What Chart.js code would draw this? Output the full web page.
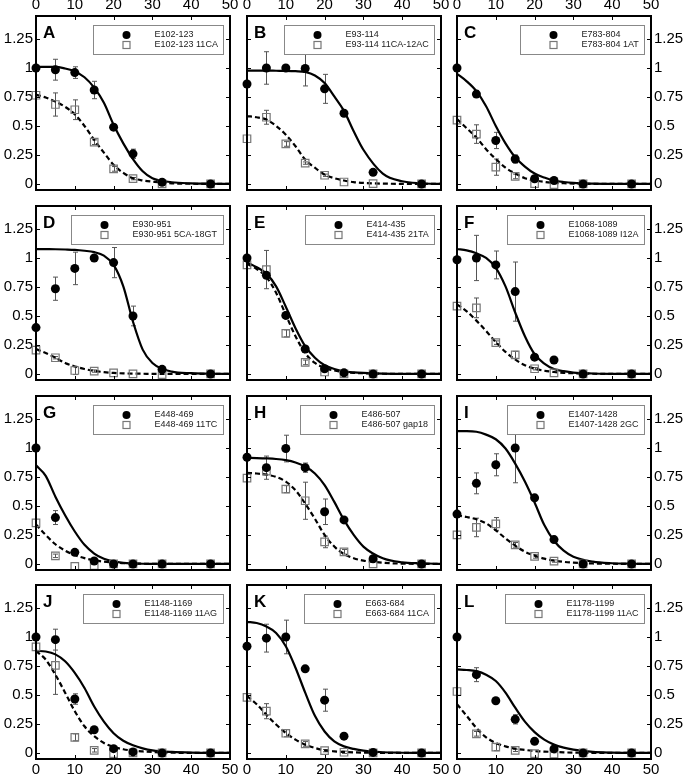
<!DOCTYPE html>
<html><head><meta charset="utf-8">
<script src="https://cdn.jsdelivr.net/npm/chart.js@4"></script>
<style>
html,body{margin:0;padding:0;background:#fff;}
#wrap{position:relative;width:687px;height:781px;overflow:hidden;background:#fff;}
canvas{position:absolute;}
</style></head><body><div id="wrap"></div>
<script>
// ---------- shared axes / categories ----------
const xPoints = [0, 5, 10, 15, 20, 25, 32.5, 45];
const curveX = [0, 2.5, 5, 7.5, 10, 12.5, 15, 17.5, 20, 22.5, 25, 27.5, 30, 35, 40, 45, 50];
const xTicks = [0, 10, 20, 30, 40, 50];
const yTicks = [0, 0.25, 0.5, 0.75, 1, 1.25];
const yTickLabels = ['0', '0.25', '0.5', '0.75', '1', '1.25'];
const panelLetters = ['A','B','C','D','E','F','G','H','I','J','K','L'];
const wildNames = ['E102-123','E93-114','E783-804','E930-951','E414-435','E1068-1089','E448-469','E486-507','E1407-1428','E1148-1169','E663-684','E1178-1199'];
const mutNames = ['E102-123 11CA','E93-114 11CA-12AC','E783-804 1AT','E930-951 5CA-18GT','E414-435 21TA','E1068-1089 I12A','E448-469 11TC','E486-507 gap18','E1407-1428 2GC','E1148-1169 11AG','E663-684 11CA','E1178-1199 11AC'];

// ---------- panel A ----------
const A_wild = [1.0, 0.985, 0.96, 0.81, 0.49, 0.26, 0.015, 0.0];
const A_wildErr = [0, 0.09, 0.05, 0.075, 0.02, 0.04, 0, 0];
const A_mut = [0.765, 0.685, 0.64, 0.36, 0.13, 0.046, 0.0, 0.0];
const A_mutErr = [0, 0.1, 0.085, 0.02, 0.02, 0.01, 0, 0];
const A_fitWild = [1.01, 1.01, 1.01, 0.995, 0.97, 0.92, 0.83, 0.70, 0.51, 0.35, 0.215, 0.11, 0.05, 0.015, 0.005, 0.002, 0];
const A_fitMut = [0.77, 0.745, 0.71, 0.665, 0.60, 0.50, 0.38, 0.27, 0.165, 0.095, 0.05, 0.03, 0.02, 0.005, 0.002, 0.001, 0];
// ---------- panel B ----------
const B_wild = [0.862, 1.0, 1.0, 0.995, 0.82, 0.61, 0.10, 0.0];
const B_wildErr = [0, 0.14, 0, 0.15, 0.125, 0, 0, 0];
const B_mut = [0.39, 0.575, 0.345, 0.18, 0.075, 0.017, 0.003, 0];
const B_mutErr = [0, 0.06, 0.02, 0.01, 0.01, 0, 0, 0];
const B_fitWild = [0.977, 0.977, 0.977, 0.976, 0.975, 0.972, 0.965, 0.935, 0.87, 0.755, 0.63, 0.455, 0.295, 0.09, 0.023, 0.006, 0];
const B_fitMut = [0.585, 0.575, 0.555, 0.50, 0.425, 0.325, 0.21, 0.14, 0.08, 0.05, 0.03, 0.016, 0.009, 0.003, 0.001, 0, 0];
// ---------- panel C ----------
const C_wild = [1.0, 0.775, 0.375, 0.215, 0.045, 0.03, 0, 0];
const C_wildErr = [0, 0.03, 0.07, 0.035, 0, 0, 0, 0];
const C_mut = [0.55, 0.43, 0.145, 0.065, 0.003, -0.005, 0, 0];
const C_mutErr = [0, 0.08, 0.07, 0.02, 0, 0, 0, 0];
const C_fitWild = [0.95, 0.885, 0.80, 0.67, 0.50, 0.35, 0.23, 0.15, 0.09, 0.055, 0.03, 0.017, 0.009, 0.003, 0.001, 0, 0];
const C_fitMut = [0.56, 0.48, 0.40, 0.30, 0.215, 0.14, 0.09, 0.05, 0.03, 0.018, 0.01, 0.006, 0.003, 0.001, 0, 0, 0];
// ---------- panel D ----------
const D_wild = [0.40, 0.735, 0.91, 1.0, 0.96, 0.50, 0.04, 0];
const D_wildErr = [0, 0.1, 0.14, 0, 0.13, 0.085, 0, 0];
const D_mut = [0.205, 0.14, 0.03, 0.025, 0.01, 0, -0.005, 0];
const D_mutErr = [0, 0.01, 0.035, 0.01, 0, 0, 0, 0];
const D_fitWild = [1.077, 1.076, 1.075, 1.073, 1.07, 1.062, 1.05, 1.02, 0.94, 0.755, 0.45, 0.21, 0.095, 0.02, 0.007, 0.002, 0];
const D_fitMut = [0.215, 0.18, 0.14, 0.095, 0.065, 0.043, 0.026, 0.016, 0.009, 0.005, 0.003, 0.002, 0.001, 0, 0, 0, 0];
// ---------- panel E ----------
const E_wild = [1.0, 0.85, 0.505, 0.215, 0.045, 0.01, 0, 0];
const E_wildErr = [0, 0.02, 0.03, 0, 0, 0, 0, 0];
const E_mut = [0.94, 0.90, 0.35, 0.10, 0.017, 0, 0, 0];
const E_mutErr = [0, 0.165, 0.03, 0.02, 0, 0, 0, 0];
const E_fitWild = [0.963, 0.92, 0.865, 0.755, 0.58, 0.395, 0.24, 0.14, 0.075, 0.043, 0.023, 0.014, 0.009, 0.003, 0.001, 0, 0];
const E_fitMut = [0.95, 0.905, 0.835, 0.70, 0.51, 0.325, 0.18, 0.095, 0.052, 0.03, 0.017, 0.01, 0.006, 0.002, 0, 0, 0];
// ---------- panel F ----------
const F_wild = [0.985, 1.0, 0.94, 0.71, 0.145, 0.12, 0, 0];
const F_wildErr = [0, 0.195, 0.12, 0.255, 0, 0, 0, 0];
const F_mut = [0.585, 0.57, 0.27, 0.165, 0.045, 0.01, 0, 0];
const F_mutErr = [0, 0.085, 0.015, 0.03, 0.01, 0, 0, 0];
const F_fitWild = [1.077, 1.065, 1.04, 1.0, 0.915, 0.755, 0.53, 0.325, 0.17, 0.09, 0.043, 0.024, 0.012, 0.004, 0.001, 0, 0];
const F_fitMut = [0.60, 0.54, 0.46, 0.37, 0.275, 0.19, 0.125, 0.075, 0.046, 0.028, 0.017, 0.01, 0.006, 0.002, 0, 0, 0];
// ---------- panel G ----------
const G_wild = [1.0, 0.40, 0.10, 0.026, 0, 0, 0, 0];
const G_wildErr = [0, 0.06, 0, 0, 0, 0, 0, 0];
const G_mut = [0.355, 0.07, -0.02, -0.015, 0, 0, 0, 0];
const G_mutErr = [0, 0.015, 0, 0, 0, 0, 0, 0];
const G_fitWild = [0.85, 0.76, 0.58, 0.42, 0.28, 0.165, 0.09, 0.045, 0.022, 0.01, 0.005, 0.002, 0.001, 0, 0, 0, 0];
const G_fitMut = [0.34, 0.25, 0.17, 0.115, 0.077, 0.05, 0.032, 0.02, 0.012, 0.007, 0.003, 0.002, 0.001, 0, 0, 0, 0];
// ---------- panel H ----------
const H_wild = [0.92, 0.83, 0.995, 0.83, 0.45, 0.38, 0.045, 0];
const H_wildErr = [0, 0.1, 0.115, 0.04, 0.11, 0, 0, 0];
const H_mut = [0.74, 0.80, 0.645, 0.545, 0.19, 0.105, 0.0, 0];
const H_mutErr = [0, 0, 0.03, 0.16, 0.05, 0.02, 0, 0];
const H_fitWild = [0.915, 0.913, 0.91, 0.905, 0.895, 0.875, 0.84, 0.78, 0.68, 0.535, 0.38, 0.25, 0.15, 0.049, 0.014, 0.006, 0];
const H_fitMut = [0.785, 0.78, 0.77, 0.75, 0.71, 0.635, 0.52, 0.39, 0.25, 0.15, 0.086, 0.049, 0.029, 0.011, 0.003, 0.001, 0];
// ---------- panel I ----------
const I_wild = [0.43, 0.695, 0.855, 1.0, 0.57, 0.21, 0, 0];
const I_wildErr = [0, 0.09, 0.095, 0.3, 0, 0, 0, 0];
const I_mut = [0.25, 0.315, 0.345, 0.165, 0.065, 0.025, 0, 0];
const I_mutErr = [0, 0.08, 0.055, 0.02, 0.015, 0.01, 0, 0];
const I_fitWild = [1.145, 1.145, 1.14, 1.115, 1.075, 0.995, 0.865, 0.71, 0.53, 0.335, 0.20, 0.115, 0.063, 0.02, 0.006, 0.002, 0];
const I_fitMut = [0.42, 0.405, 0.385, 0.35, 0.29, 0.22, 0.158, 0.106, 0.072, 0.046, 0.029, 0.018, 0.011, 0.004, 0.002, 0, 0];
// ---------- panel J ----------
const J_wild = [1.0, 0.977, 0.465, 0.20, 0.037, 0.009, 0, 0];
const J_wildErr = [0, 0.09, 0.045, 0, 0, 0, 0, 0];
const J_mut = [0.915, 0.755, 0.135, 0.023, -0.005, 0, 0, 0];
const J_mutErr = [0, 0.25, 0.03, 0.015, 0, 0, 0, 0];
const J_fitWild = [0.88, 0.875, 0.85, 0.79, 0.69, 0.56, 0.40, 0.27, 0.17, 0.105, 0.066, 0.04, 0.023, 0.009, 0.003, 0.001, 0];
const J_fitMut = [0.88, 0.805, 0.675, 0.52, 0.36, 0.23, 0.145, 0.086, 0.052, 0.032, 0.02, 0.013, 0.008, 0.003, 0, 0, 0];
// ---------- panel K ----------
const K_wild = [0.92, 0.99, 1.0, 0.725, 0.455, 0.145, 0.005, 0];
const K_wildErr = [0, 0.12, 0.145, 0, 0.095, 0, 0, 0];
const K_mut = [0.48, 0.36, 0.17, 0.078, 0.02, 0.006, 0, 0];
const K_mutErr = [0, 0.065, 0.03, 0.02, 0.01, 0.01, 0, 0];
const K_fitWild = [1.13, 1.12, 1.09, 1.035, 0.92, 0.735, 0.52, 0.32, 0.185, 0.10, 0.057, 0.035, 0.02, 0.006, 0.002, 0, 0];
const K_fitMut = [0.49, 0.42, 0.33, 0.245, 0.172, 0.115, 0.072, 0.043, 0.023, 0.014, 0.009, 0.005, 0.003, 0.001, 0, 0, 0];
// ---------- panel L ----------
const L_wild = [1.0, 0.675, 0.45, 0.29, 0.10, 0.035, 0, 0];
const L_wildErr = [0, 0.06, 0, 0.04, 0, 0, 0, 0];
const L_mut = [0.53, 0.165, 0.05, 0.023, -0.005, -0.01, 0, 0];
const L_mutErr = [0, 0.02, 0.03, 0.01, 0, 0, 0, 0];
const L_fitWild = [0.72, 0.715, 0.705, 0.675, 0.62, 0.52, 0.39, 0.27, 0.18, 0.115, 0.072, 0.046, 0.029, 0.009, 0.003, 0.001, 0];
const L_fitMut = [0.42, 0.32, 0.215, 0.135, 0.086, 0.057, 0.037, 0.026, 0.017, 0.012, 0.009, 0.005, 0.003, 0.001, 0, 0, 0];

const panels = [
  [A_wild, A_wildErr, A_mut, A_mutErr, A_fitWild, A_fitMut],
  [B_wild, B_wildErr, B_mut, B_mutErr, B_fitWild, B_fitMut],
  [C_wild, C_wildErr, C_mut, C_mutErr, C_fitWild, C_fitMut],
  [D_wild, D_wildErr, D_mut, D_mutErr, D_fitWild, D_fitMut],
  [E_wild, E_wildErr, E_mut, E_mutErr, E_fitWild, E_fitMut],
  [F_wild, F_wildErr, F_mut, F_mutErr, F_fitWild, F_fitMut],
  [G_wild, G_wildErr, G_mut, G_mutErr, G_fitWild, G_fitMut],
  [H_wild, H_wildErr, H_mut, H_mutErr, H_fitWild, H_fitMut],
  [I_wild, I_wildErr, I_mut, I_mutErr, I_fitWild, I_fitMut],
  [J_wild, J_wildErr, J_mut, J_mutErr, J_fitWild, J_fitMut],
  [K_wild, K_wildErr, K_mut, K_mutErr, K_fitWild, K_fitMut],
  [L_wild, L_wildErr, L_mut, L_mutErr, L_fitWild, L_fitMut]
];

// ---------- layout ----------
const colLeft = [36, 247, 457];
const rowTop = [16, 206, 396, 585];
const FW = 194, FH = 174;
const PADX = 40, PADY = 22;
const FONT = '"Liberation Sans", Arial, Helvetica, sans-serif';

function toXY(xs, ys) { return xs.map((x, i) => ({ x: x, y: ys[i] })); }

function makePlugin(idx) {
  const [wild, wildErr, mut, mutErr] = panels[idx];
  function errBars(ctx, xs, ys, es, sx, sy) {
    ctx.save();
    ctx.strokeStyle = '#555';
    ctx.lineWidth = 1;
    for (let i = 0; i < xs.length; i++) {
      if (!es[i]) continue;
      const px = Math.round(sx.getPixelForValue(xs[i])) + 0.5;
      const p1 = sy.getPixelForValue(ys[i] + es[i]);
      const p2 = sy.getPixelForValue(ys[i] - es[i]);
      ctx.beginPath();
      ctx.moveTo(px, p1); ctx.lineTo(px, p2);
      ctx.moveTo(px - 2.5, p1); ctx.lineTo(px + 2.5, p1);
      ctx.moveTo(px - 2.5, p2); ctx.lineTo(px + 2.5, p2);
      ctx.stroke();
    }
    ctx.restore();
  }
  return {
    id: 'panelDeco' + idx,
    beforeDatasetsDraw(chart) {
      const sx = chart.scales.x, sy = chart.scales.y, ctx = chart.ctx;
      errBars(ctx, xPoints, mut, mutErr, sx, sy);
      errBars(ctx, xPoints, wild, wildErr, sx, sy);
    },
    afterDraw(chart) {
      const ctx = chart.ctx, ca = chart.chartArea;
      const sx = chart.scales.x, sy = chart.scales.y;
      ctx.save();
      // frame
      ctx.strokeStyle = '#000';
      ctx.lineWidth = 2;
      ctx.strokeRect(ca.left, ca.top, ca.right - ca.left, ca.bottom - ca.top);
      // inward tick marks
      ctx.lineWidth = 1;
      ctx.beginPath();
      xTicks.forEach(v => {
        const px = Math.round(sx.getPixelForValue(v)) + 0.5;
        ctx.moveTo(px, ca.top); ctx.lineTo(px, ca.top + 4);
        ctx.moveTo(px, ca.bottom); ctx.lineTo(px, ca.bottom - 4);
      });
      yTicks.forEach(v => {
        const py = Math.round(sy.getPixelForValue(v)) + 0.5;
        ctx.moveTo(ca.left, py); ctx.lineTo(ca.left + 4, py);
        ctx.moveTo(ca.right, py); ctx.lineTo(ca.right - 4, py);
      });
      ctx.stroke();
      // legend box
      ctx.font = '9px ' + FONT;
      const n1 = wildNames[idx], n2 = mutNames[idx];
      const tw = Math.max(ctx.measureText(n1).width, ctx.measureText(n2).width);
      const bw = Math.round(61 + tw + 6), bh = 29;
      const bx = Math.round(ca.right - 7 - bw) + 0.5, by = Math.round(ca.top + 9) + 0.5;
      ctx.fillStyle = '#fff';
      ctx.fillRect(bx, by, bw, bh);
      ctx.strokeStyle = '#888';
      ctx.strokeRect(bx, by, bw, bh);
      ctx.fillStyle = '#000';
      ctx.beginPath();
      ctx.arc(bx + 33, by + 9.5, 4, 0, Math.PI * 2);
      ctx.fill();
      ctx.strokeStyle = '#777';
      ctx.lineWidth = 1.2;
      ctx.strokeRect(bx + 29.5, by + 16, 7, 7);
      ctx.fillStyle = '#222';
      ctx.textBaseline = 'middle';
      ctx.textAlign = 'left';
      ctx.fillText(n1, bx + 61, by + 9.5);
      ctx.fillText(n2, bx + 61, by + 19.5);
      // panel letter
      ctx.fillStyle = '#000';
      ctx.font = 'bold 17px ' + FONT;
      ctx.textBaseline = 'alphabetic';
      ctx.fillText(panelLetters[idx], ca.left + 7, ca.top + 22);
      ctx.restore();
    }
  };
}

const wrap = document.getElementById('wrap');
panels.forEach((p, idx) => {
  const row = Math.floor(idx / 3), col = idx % 3;
  const cv = document.createElement('canvas');
  const W = FW + 2 * PADX, H = FH + 2 * PADY;
  cv.width = W; cv.height = H;
  cv.style.left = (colLeft[col] - PADX) + 'px';
  cv.style.top = (rowTop[row] - PADY) + 'px';
  cv.style.width = W + 'px'; cv.style.height = H + 'px';
  wrap.appendChild(cv);
  const xTop = row === 0, yRight = col === 2;
  const [wild, wildErr, mut, mutErr, fitWild, fitMut] = p;
  new Chart(cv.getContext('2d'), {
    type: 'scatter',
    data: {
      datasets: [
        { label: wildNames[idx], data: toXY(xPoints, wild), pointStyle: 'circle', pointRadius: 4.5,
          pointBackgroundColor: '#000', pointBorderColor: '#000', pointBorderWidth: 0, clip: false, order: 0 },
        { label: mutNames[idx], data: toXY(xPoints, mut), pointStyle: 'rect', pointRadius: 5.3,
          pointBackgroundColor: 'rgba(255,255,255,0)', pointBorderColor: '#777', pointBorderWidth: 1.2, clip: false, order: 1 },
        { label: 'fit', data: toXY(curveX, fitWild), showLine: true, pointRadius: 0, borderColor: '#000',
          borderWidth: 2.2, cubicInterpolationMode: 'monotone', clip: false, order: 2 },
        { label: 'fit mut', data: toXY(curveX, fitMut), showLine: true, pointRadius: 0, borderColor: '#000',
          borderWidth: 2.2, borderDash: [5, 3], cubicInterpolationMode: 'monotone', clip: false, order: 3 }
      ]
    },
    options: {
      responsive: false, animation: false, events: [],
      layout: { padding: { left: yRight ? PADX : 0, right: yRight ? 0 : PADX, top: xTop ? 0 : PADY, bottom: xTop ? PADY : 0 } },
      plugins: { legend: { display: false }, tooltip: { enabled: false } },
      scales: {
        x: {
          type: 'linear', position: xTop ? 'top' : 'bottom', min: 0, max: 50,
          afterBuildTicks: s => { s.ticks = xTicks.map(v => ({ value: v })); },
          afterFit: s => { s.height = PADY; },
          grid: { display: false, drawTicks: false }, border: { display: false },
          ticks: { display: row === 0 || row === 3, color: '#000', padding: 2, maxRotation: 0, autoSkip: false,
                   font: { size: 15, family: FONT } }
        },
        y: {
          type: 'linear', position: yRight ? 'right' : 'left', min: -0.052, max: 1.448,
          afterBuildTicks: s => { s.ticks = yTicks.map(v => ({ value: v })); },
          afterFit: s => { s.width = PADX; },
          grid: { display: false, drawTicks: false }, border: { display: false },
          ticks: { display: col !== 1, color: '#000', padding: 3, autoSkip: false,
                   font: { size: 15, family: FONT },
                   callback: (v) => { const k = yTicks.indexOf(v); return k >= 0 ? yTickLabels[k] : ''; } }
        }
      }
    },
    plugins: [makePlugin(idx)]
  });
});
</script>
</body></html>
